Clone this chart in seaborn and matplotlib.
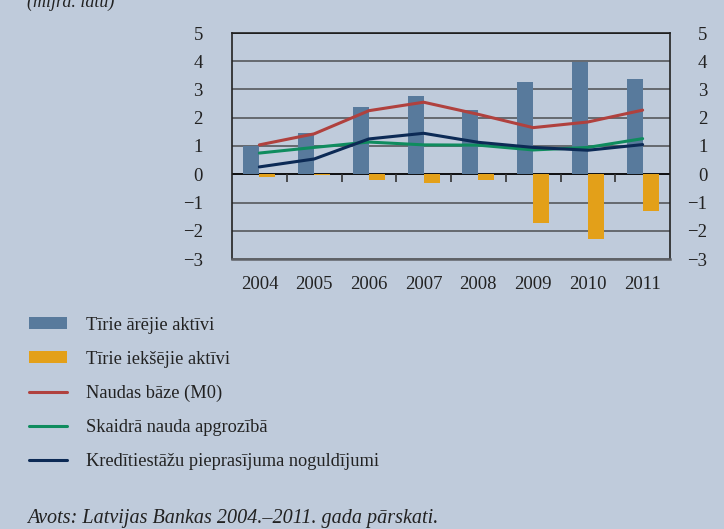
import numpy as np
import pandas as pd
import matplotlib
matplotlib.use("Agg")
import matplotlib.pyplot as plt
from matplotlib.patches import Patch
from matplotlib.lines import Line2D
import seaborn as sns

years = ["2004", "2005", "2006", "2007", "2008", "2009", "2010", "2011"]
net_foreign = [1.00, 1.45, 2.38, 2.77, 2.28, 3.27, 3.99, 3.37]
net_domestic = [-0.08, -0.04, -0.20, -0.31, -0.20, -1.71, -2.29, -1.30]
money_base = [1.04, 1.43, 2.25, 2.55, 2.12, 1.65, 1.85, 2.27]
currency = [0.75, 0.95, 1.14, 1.04, 1.03, 0.86, 0.95, 1.26]
bank_deposits = [0.26, 0.54, 1.25, 1.45, 1.13, 0.95, 0.85, 1.05]

bar_labels = ["Tīrie ārējie aktīvi", "Tīrie iekšējie aktīvi"]
line_labels = ["Naudas bāze (M0)", "Skaidrā nauda apgrozībā",
               "Kredītiestāžu pieprasījuma noguldījumi"]

BG = "#BFCBDB"
bar_colors = ["#587A9C", "#E3A019"]
line_colors = ["#B0413E", "#0F8C5E", "#0C2A55"]
GRID = "#5E6166"
TXT = "#222222"

sns.set_style("white")
plt.rcParams["font.family"] = ["Liberation Serif", "DejaVu Serif"]
plt.rcParams["axes.unicode_minus"] = True

bars = pd.DataFrame({
    "year": years * 2,
    "value": net_foreign + net_domestic,
    "series": [bar_labels[0]] * len(years) + [bar_labels[1]] * len(years),
})

fig = plt.figure(figsize=(7.24, 5.29), dpi=100, facecolor=BG)
ax = fig.add_axes([232 / 724, 1 - 259 / 529, 438 / 724, 226 / 529])
ax.set_facecolor(BG)

# grid lines behind bars
for v in range(-3, 6):
    ax.axhline(v, color="black" if v in (0, 5) else GRID, lw=1.3, zorder=0.5)

sns.barplot(data=bars, x="year", y="value", hue="series", order=years,
            hue_order=bar_labels, palette=bar_colors, width=0.58,
            saturation=1, ax=ax, legend=False, zorder=2,
            edgecolor="none", linewidth=0)

xs = np.arange(len(years))
for vals, col in zip([money_base, currency, bank_deposits], line_colors):
    sns.lineplot(x=xs, y=vals, color=col, lw=2.2, ax=ax, zorder=3)

# small separator ticks under zero line
ax.vlines(np.arange(len(years) - 1) + 0.5, -0.27, 0, color="#333333", lw=1.2, zorder=1)

ax.set_xlim(-0.5, len(years) - 0.5)
ax.set_ylim(-3, 5)
ax.set_yticks(range(-3, 6))
ax.set_xlabel("")
ax.set_ylabel("")
ax.tick_params(axis="x", length=0, pad=12, labelsize=13.5, colors=TXT)
ax.tick_params(axis="y", length=0, pad=21, labelsize=13.5, colors=TXT)
for s in ["left", "right", "top"]:
    ax.spines[s].set_color(TXT)
    ax.spines[s].set_linewidth(1.2)
ax.spines["bottom"].set_color(GRID)
ax.spines["bottom"].set_linewidth(1.8)

ax2 = ax.twinx()
ax2.set_ylim(-3, 5)
ax2.set_yticks(range(-3, 6))
ax2.tick_params(axis="y", length=0, pad=27, labelsize=13.5, colors=TXT)
for lab in ax2.get_yticklabels():
    lab.set_horizontalalignment("right")
for s in ax2.spines.values():
    s.set_visible(False)

handles = [Patch(facecolor=c, edgecolor="none") for c in bar_colors] + \
          [Line2D([], [], color=c, lw=2.2) for c in line_colors]
fig.legend(handles, bar_labels + line_labels, loc="upper left",
           bbox_to_anchor=(13 / 724, 1 - 300 / 529), frameon=False,
           fontsize=13.2, handlelength=2.05, handleheight=0.65,
           handletextpad=1.05, labelspacing=0.93, labelcolor=TXT)

fig.text(27 / 724, 1 - 518 / 529, "Avots: Latvijas Bankas 2004.–2011. gada pārskati.",
         fontsize=14.5, style="italic", color=TXT, va="center")
fig.text(27 / 724, 1 - 2 / 529, "(mljrd. latu)", fontsize=13, style="italic",
         color=TXT, va="center")

fig.savefig("out.png", dpi=100, facecolor=BG)
